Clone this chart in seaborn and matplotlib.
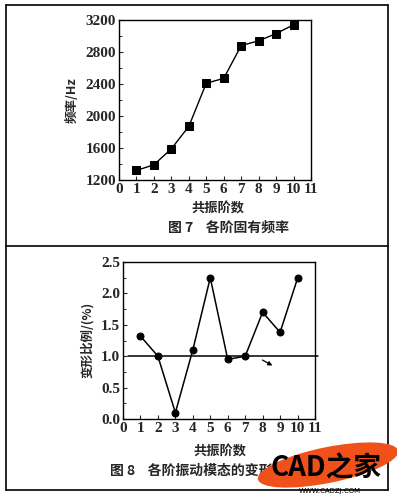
import numpy as np
import pandas as pd
import matplotlib
import matplotlib.pyplot as plt
import seaborn as sns
from matplotlib.patches import Ellipse
from matplotlib.ticker import MultipleLocator

matplotlib.use("Agg")
sns.set_style("ticks")
plt.rcParams["font.family"] = ["Liberation Serif", "Noto Sans CJK SC", "DejaVu Sans"]
plt.rcParams["axes.unicode_minus"] = False

CJK = ["Noto Sans CJK SC", "DejaVu Sans"]

# ===== 数据 =====
orders = [1, 2, 3, 4, 5, 6, 7, 8, 9, 10]
freq_hz = [1320, 1390, 1590, 1870, 2410, 2470, 2880, 2940, 3030, 3140]
deform_pct = [1.32, 1.0, 0.1, 1.1, 2.25, 0.95, 1.0, 1.7, 1.38, 2.24]
ref_level = 1.0
x_ticks = list(range(0, 12))
freq_ticks = [1200, 1600, 2000, 2400, 2800, 3200]
deform_ticks = [0.0, 0.5, 1.0, 1.5, 2.0, 2.5]

df_freq = pd.DataFrame({"阶数": orders, "频率": freq_hz})
df_def = pd.DataFrame({"阶数": orders, "比例": deform_pct})

fig = plt.figure(figsize=(3.97, 4.98), dpi=100)
W, H = 397, 498


def fx(px):
    return px / W


def fy(py):
    return 1 - py / H


def style_axes(ax):
    ax.tick_params(direction="in", length=3, width=0.8, labelsize=11, pad=2,
                   top=False, right=False)
    ax.tick_params(which="minor", direction="in", length=2, width=0.7, top=False, right=False)
    for s in ax.spines.values():
        s.set_linewidth(1.0)
        s.set_color("black")
    for lab in ax.get_xticklabels() + ax.get_yticklabels():
        lab.set_fontweight("bold")


# ===== 图7 各阶固有频率 =====
ax1 = fig.add_axes([fx(119), fy(180), fx(311) - fx(119), fy(20) - fy(180)])
sns.lineplot(data=df_freq, x="阶数", y="频率", marker="s", markersize=5.5,
             color="black", linewidth=1.0, markeredgecolor="black", ax=ax1)
ax1.set_xlim(0, 11)
ax1.set_ylim(1200, 3200)
ax1.set_xticks(x_ticks)
ax1.set_yticks(freq_ticks)
ax1.yaxis.set_minor_locator(MultipleLocator(200))
ax1.set_xlabel("")
ax1.set_ylabel("")
style_axes(ax1)
fig.text(fx(72), fy(100), "频率/Hz", rotation=90, ha="center", va="center",
         fontsize=9, family=CJK, fontweight="bold")
fig.text(fx(218), fy(209), "共振阶数", ha="center", va="center",
         fontsize=9.5, family=CJK, fontweight="bold")
fig.text(fx(228), fy(228), "图 7    各阶固有频率", ha="center", va="center",
         fontsize=10, family=CJK, fontweight="bold")

# ===== 图8 各阶振动模态的变形比例 =====
ax2 = fig.add_axes([fx(123), fy(419), fx(315) - fx(123), fy(262) - fy(419)])
sns.lineplot(data=df_def, x="阶数", y="比例", marker="o", markersize=5,
             color="black", linewidth=1.1, markeredgecolor="black", ax=ax2)
ax2.plot([0.3, 11.2], [ref_level, ref_level], color="black", linewidth=1.1, clip_on=False)
ax2.annotate("", xy=(8.7, 0.83), xytext=(7.85, 0.96),
             arrowprops=dict(arrowstyle="-|>", color="black", lw=0.9,
                             mutation_scale=6))
ax2.set_xlim(0, 11)
ax2.set_ylim(0, 2.5)
ax2.set_xticks(x_ticks)
ax2.set_yticks(deform_ticks)
ax2.set_yticklabels([f"{v:.1f}" for v in deform_ticks])
ax2.yaxis.set_minor_locator(MultipleLocator(0.25))
ax2.set_xlabel("")
ax2.set_ylabel("")
style_axes(ax2)
fig.text(fx(87), fy(340), "变形比例/(%)", rotation=90, ha="center", va="center",
         fontsize=9, family=CJK, fontweight="bold")
fig.text(fx(220), fy(452), "共振阶数", ha="center", va="center",
         fontsize=9.5, family=CJK, fontweight="bold")
fig.text(fx(110), fy(471), "图 8    各阶振动模态的变形比例", ha="left", va="center",
         fontsize=10, family=CJK, fontweight="bold")

# ===== 外框 =====
frame = dict(color="black", linewidth=1.2, transform=fig.transFigure, clip_on=False)
fig.add_artist(plt.Line2D([fx(6), fx(388)], [fy(5), fy(5)], **frame))
fig.add_artist(plt.Line2D([fx(6), fx(388)], [fy(246), fy(246)], **frame))
fig.add_artist(plt.Line2D([fx(6), fx(388)], [fy(490), fy(490)], **frame))
fig.add_artist(plt.Line2D([fx(6), fx(6)], [fy(5), fy(490)], **frame))
fig.add_artist(plt.Line2D([fx(388), fx(388)], [fy(5), fy(490)], **frame))

# ===== 水印 =====
wm = Ellipse((fx(328), fy(465)), fx(142), 36 / H, angle=9, transform=fig.transFigure,
             facecolor="#f0501a", edgecolor="none", zorder=10)
fig.add_artist(wm)
fig.text(fx(326), fy(468), "CAD之家", ha="center", va="center", fontsize=20,
         family=["Noto Sans CJK SC"], fontweight="bold", color="black", zorder=11)
fig.text(fx(330), fy(491), "WWW.CADZJ.COM", ha="center", va="center", fontsize=5,
         family=["DejaVu Sans"], color="black", zorder=11)

fig.savefig("out.png", dpi=100)
plt.close(fig)
